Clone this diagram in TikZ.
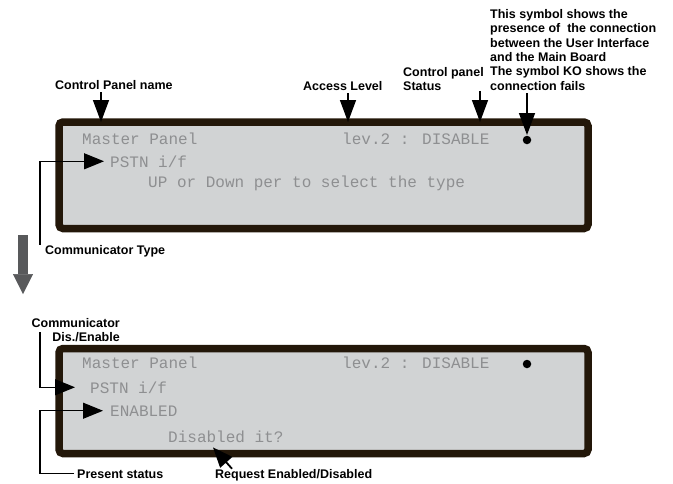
\documentclass[tikz,border=0pt]{standalone}
\usepackage{fontspec}
\setmainfont{Liberation Sans}
\newfontfamily\lcdfont{Liberation Mono}
\usetikzlibrary{arrows.meta}
\definecolor{lcdFrame}{HTML}{231709}
\definecolor{lcdScreen}{HTML}{D1D3D4}
\definecolor{lcdInk}{HTML}{8E8F91}
\definecolor{lcdFlow}{HTML}{58595B}
\tikzset{
  lcd frame/.style={draw=lcdFrame, fill=lcdScreen, line width=7.5pt, rounded corners=4pt},
  lcd text/.style={anchor=base west, inner sep=0pt, text=lcdInk, font=\lcdfont\fontsize{16}{16}\selectfont},
  lcd dot/.style={circle, fill=black, inner sep=0pt, minimum size=8.5pt},
  lcd label/.style={inner sep=0pt, font=\bfseries\fontsize{12.5}{14.3}\selectfont},
  lcd pointer/.style={draw=black, line width=1.4pt, shorten <=3pt, -{Triangle[length=22pt,width=16pt]}},
  lcd leader/.style={draw=black, line width=1.1pt, -{Triangle[length=20pt,width=16pt]}},
  lcd flow/.style={draw=lcdFlow, line width=10pt, -{Triangle[length=20pt,width=20pt,line width=0.5pt]}},
}
\begin{document}
\begin{tikzpicture}[x=1pt,y=-1pt]
\useasboundingbox (0,0) rectangle (673,483);
\draw[lcd frame] (59,122) rectangle (588,228.5);
\draw[lcd frame] (59,348.5) rectangle (588,453.5);
% upper screen
\node[lcd text] (mname) at (82,144) {Master Panel};
\node[lcd text] (mlev) at (342,144) {lev.2 : DISABLE};
\node[lcd dot] (mlink) at (527,140) {};
\node[lcd text] (mpstn) at (110,167) {PSTN i/f};
\node[lcd text] (mhint) at (148,187) {UP or Down per to select the type};
% lower screen
\node[lcd text] (bname) at (82,368) {Master Panel};
\node[lcd text] (blev) at (342,368) {lev.2 : DISABLE};
\node[lcd dot] (blink) at (527,364) {};
\node[lcd text] (bpstn) at (90,393) {PSTN i/f};
\node[lcd text] (bstate) at (110,416) {ENABLED};
\node[lcd text] (bask) at (168,442) {Disabled it?};
% labels
\node[lcd label,anchor=base west] (lname) at (55,89) {Control Panel name};
\node[lcd label,anchor=base west] (llevel) at (303,90) {Access Level};
\node[lcd label,anchor=north west,align=left] (lstatus) at (403,67) {Control panel\\Status};
\node[lcd label,anchor=north west,align=left] (lsymbol) at (490,9.3) {This symbol shows the\\presence of~ the connection\\between the User Interface\\and the Main Board\\The symbol KO shows the\\connection fails};
\node[lcd label,anchor=base west] (ltype) at (45,254) {Communicator Type};
\node[lcd label,anchor=north east,align=right] (lswitch) at (120,318) {Communicator\\Dis./Enable};
\node[lcd label,anchor=base west] (lpresent) at (77,478) {Present status};
\node[lcd label,anchor=base west] (lrequest) at (215,478) {Request Enabled/Disabled};
\coordinate (namept) at (101,122);\coordinate (levelpt) at (348,122);
\coordinate (statuspt) at (480,122);\coordinate (linkpt) at (527,135);
\coordinate (switchfoot) at (40,332);
\coordinate (flowtop) at (23,235);\coordinate (flowtip) at (23,294);
% connectors
\draw[lcd pointer] (namept |- lname.south) -- (namept);
\draw[lcd pointer] (levelpt |- llevel.south) -- (levelpt);
\draw[lcd pointer,shorten <=0pt] (statuspt |- lstatus.south) -- (statuspt);
\draw[lcd pointer] (linkpt |- lsymbol.south) -- (linkpt);
\draw[lcd leader] ([xshift=-5pt]ltype.north west) |- ([xshift=-6pt]mpstn.west);
\draw[lcd leader] (switchfoot) |- ([xshift=-15pt]bpstn.west);
\draw[lcd leader] ([xshift=-3pt]lpresent.west) -- ++(-34,0) |- ([xshift=-7pt]bstate.west);
\draw[lcd leader,line width=1.8pt] ([xshift=17pt]lrequest.north west) -- ([xshift=45pt,yshift=-5pt]bask.south west);
\draw[lcd flow] (flowtop) -- (flowtip);
\end{tikzpicture}
\end{document}
